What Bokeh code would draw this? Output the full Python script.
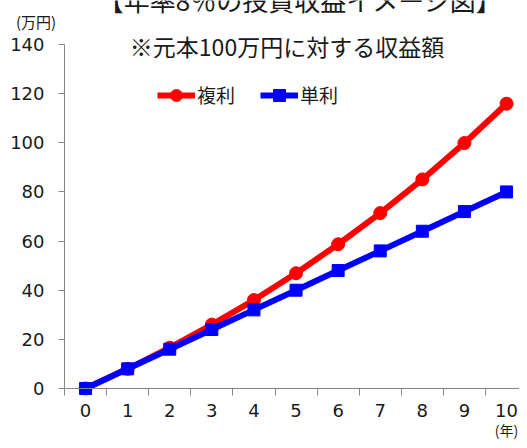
from bokeh.plotting import figure
from bokeh.models import Range1d, FixedTicker, Label, Legend, LegendItem, LinearAxis
from bokeh.embed import file_html
from bokeh.resources import INLINE

# data
years = [0, 1, 2, 3, 4, 5, 6, 7, 8, 9, 10]
compound = [0, 8.0, 16.6, 26.0, 36.0, 46.9, 58.7, 71.4, 85.1, 99.9, 115.9]
simple = [0, 8, 16, 24, 32, 40, 48, 56, 64, 72, 80]
y_ticks = [0, 20, 40, 60, 80, 100, 120, 140]
title_text = "【年率8％の投資収益イメージ図】"
subtitle_text = "※元本100万円に対する収益額"
series_names = ["複利", "単利"]
y_unit = "(万円)"
x_unit = "(年)"

JP = "Noto Sans CJK JP"
NUM = "DejaVu Sans"
AX = "#868686"

W, H = 519, 440
p = figure(frame_width=W, frame_height=H,
           min_border_left=0, min_border_right=0,
           min_border_top=0, min_border_bottom=0,
           x_range=Range1d(-2.0202, 10.3076), y_range=Range1d(-21.163, 157.907),
           x_axis_location=None, y_axis_location=None,
           output_backend="svg", toolbar_location=None)
p.outline_line_color = None
p.xgrid.visible = False
p.ygrid.visible = False
p.background_fill_color = "white"
p.border_fill_color = "white"

# x axis (sits on y = 0)
xaxis = LinearAxis(fixed_location=0, bounds=(-0.5, 10.5),
                   ticker=FixedTicker(ticks=years, minor_ticks=[i - 0.5 for i in range(12)]))
xaxis.major_tick_out = 0
xaxis.major_tick_in = 0
xaxis.minor_tick_out = 7
xaxis.minor_tick_in = 0
xaxis.minor_tick_line_color = AX
xaxis.axis_line_color = AX
xaxis.major_label_text_font = NUM
xaxis.major_label_text_font_size = "18px"
xaxis.major_label_text_color = "#1a1a1a"
xaxis.major_label_standoff = 9
p.add_layout(xaxis, "below")

# y axis (sits on x = -0.5)
yaxis = LinearAxis(fixed_location=-0.5, bounds=(0, 140),
                   ticker=FixedTicker(ticks=y_ticks, minor_ticks=[]))
yaxis.major_tick_out = 6
yaxis.major_tick_in = 0
yaxis.minor_tick_out = 0
yaxis.minor_tick_in = 0
yaxis.major_tick_line_color = AX
yaxis.axis_line_color = AX
yaxis.major_label_text_font = NUM
yaxis.major_label_text_font_size = "18px"
yaxis.major_label_text_color = "#1a1a1a"
yaxis.major_label_standoff = 14
p.add_layout(yaxis, "left")

# series
r_line = p.line(years, compound, line_color="#FF0000", line_width=6)
r_pts = p.scatter(years, compound, marker="circle", size=13,
                  fill_color="#FF0000", line_color="#FF0000")
b_line = p.line(years, simple, line_color="#0000FF", line_width=6)
b_pts = p.scatter(years, simple, marker="square", size=12,
                  fill_color="#0000FF", line_color="#0000FF")

legend = Legend(items=[LegendItem(label=series_names[0], renderers=[r_line, r_pts]),
                       LegendItem(label=series_names[1], renderers=[b_line, b_pts])],
                orientation="horizontal", location=(157, 330.5),
                glyph_width=38, glyph_height=30, label_height=30,
                label_standoff=2, spacing=25, padding=0, margin=0,
                border_line_color=None, background_fill_alpha=0,
                label_text_font=JP, label_text_font_size="19px",
                label_text_color="#1a1a1a")
p.add_layout(legend)

# texts
p.add_layout(Label(x=299.5, y=441, x_units="screen", y_units="screen",
                   text=title_text, text_align="center", text_baseline="middle",
                   text_font=JP, text_font_size="26px", text_color="#1a1a1a"))
p.add_layout(Label(x=286.5, y=394.5, x_units="screen", y_units="screen",
                   text=subtitle_text, text_align="center", text_baseline="middle",
                   text_font=JP, text_font_size="23px", text_color="#1a1a1a"))
p.add_layout(Label(x=35.5, y=419, x_units="screen", y_units="screen",
                   text=y_unit, text_align="center", text_baseline="middle",
                   text_font=JP, text_font_size="15px", text_color="#1a1a1a"))
p.add_layout(Label(x=506, y=11, x_units="screen", y_units="screen",
                   text=x_unit, text_align="center", text_baseline="middle",
                   text_font=JP, text_font_size="14px", text_color="#1a1a1a"))

open("out.html", "w").write(file_html(p, INLINE))
